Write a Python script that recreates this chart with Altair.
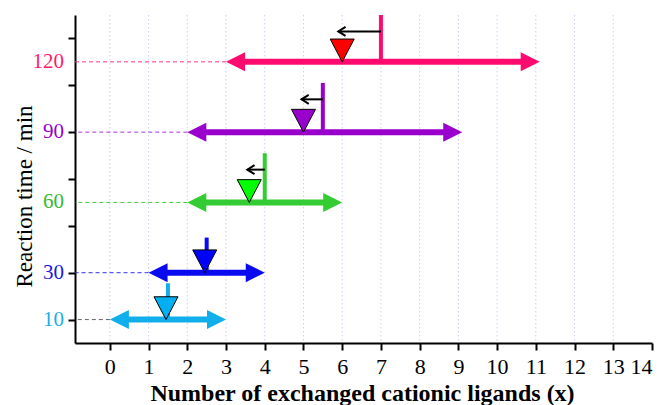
import altair as alt
import pandas as pd

# ---- data ----
times = [10, 30, 60, 90, 120]
arrow_start = [0, 1, 2, 2, 3]
arrow_end = [3, 4, 6, 9.1, 11.1]
marker_x = [1.45, 2.45, 3.6, 5.0, 6.0]
bar_x = [1.5, 2.5, 4.0, 5.5, 7.0]
bar_top = [25.5, 45, 81, 111, 140]
line_colors = ["#10AEEA", "#0A0AF0", "#33CC33", "#9900CC", "#FF0A6E"]
marker_colors = ["#00B0F0", "#0000FF", "#00FF00", "#9900CC", "#FF0000"]
label_colors = ["#1AAEE6", "#1A1AE0", "#33BB33", "#9900CC", "#FF1A6E"]
dash_colors = ["#666666", "#3333EE", "#44CC44", "#AA33DD", "#FF3388"]

shift_time = [60, 90, 120]
shift_from = [4.0, 5.5, 7.0]
shift_to = [3.55, 4.95, 5.9]
shift_y = [74, 104, 133]

grid_x = list(range(0, 14))
x_ticks = list(range(0, 15))
y_ticks = list(range(10, 140, 10))

W, H = 577, 328
FONT = "Liberation Serif"
HEAD_SHORTEN = 0.3

df = pd.DataFrame({
    "time": times, "start": arrow_start, "end": arrow_end,
    "mx": marker_x, "bx": bar_x, "btop": bar_top,
    "lc": line_colors, "mc": marker_colors, "tc": label_colors, "dc": dash_colors,
})
df["ls"] = df["start"] + HEAD_SHORTEN
df["le"] = df["end"] - HEAD_SHORTEN
df["label"] = df["time"].astype(str)

sdf = pd.DataFrame({"time": shift_time, "x1": shift_from, "x2": shift_to, "y": shift_y})
gdf = pd.DataFrame({"gx": grid_x})

xs = alt.Scale(domain=[-0.9, 14], nice=False, zero=False)
ys = alt.Scale(domain=[0, 140], nice=False, zero=False)

x_axis = alt.Axis(values=x_ticks, title="Number of exchanged cationic ligands (x)",
                  labelFont=FONT, labelFontSize=22, labelColor="black", labelPadding=6,
                  titleFont=FONT, titleFontSize=24, titleFontWeight="bold", titleColor="black",
                  titleX=287, titleY=57, titleBaseline="alphabetic",
                  tickSize=7, tickWidth=2, tickColor="black", domainWidth=2, domainColor="black",
                  grid=False)
y_axis = alt.Axis(values=y_ticks, labels=False, title="Reaction time / min",
                  titleFont=FONT, titleFontSize=23, titleFontWeight="normal", titleColor="black",
                  titleX=-44, titleY=181, titleAngle=-90, titleBaseline="alphabetic", titleAlign="center",
                  tickSize=7, tickWidth=2, tickColor="black", domainWidth=2, domainColor="black",
                  grid=False)

grid = alt.Chart(gdf).mark_rule(color="#CDCDF7", strokeWidth=1, strokeDash=[1.5, 2.5]).encode(
    x=alt.X("gx:Q", scale=xs, axis=x_axis),
    y=alt.value(0), y2=alt.value(H),
)

base = alt.Chart(df)

dashes = base.mark_rule(strokeWidth=1, strokeDash=[4, 3]).encode(
    x=alt.X("start:Q", scale=xs),
    x2=alt.value(0),
    y=alt.Y("time:Q", scale=ys, axis=y_axis),
    color=alt.Color("dc:N", scale=None),
)

bars = base.mark_rule(strokeWidth=4).encode(
    x=alt.X("bx:Q"), y=alt.Y("time:Q"), y2="btop:Q",
    color=alt.Color("lc:N", scale=None),
)

lines = base.mark_rule(strokeWidth=6).encode(
    x=alt.X("ls:Q"), x2="le:Q", y=alt.Y("time:Q"),
    color=alt.Color("lc:N", scale=None),
)

head_r = base.mark_point(shape="M0,0L-2,-1L-2,1Z", filled=True, size=361, opacity=1, strokeWidth=0).encode(
    x="end:Q", y="time:Q", color=alt.Color("lc:N", scale=None),
)
head_l = base.mark_point(shape="M0,0L2,-1L2,1Z", filled=True, size=361, opacity=1, strokeWidth=0).encode(
    x="start:Q", y="time:Q", color=alt.Color("lc:N", scale=None),
)

markers = base.mark_point(shape="M0,0L-1,-1.9L1,-1.9Z", filled=True, size=576, opacity=1,
                          stroke="black", strokeWidth=1).encode(
    x="mx:Q", y="time:Q", fill=alt.Fill("mc:N", scale=None),
)

labels = base.mark_text(align="right", baseline="middle", font=FONT, fontSize=21).encode(
    x=alt.value(-11), y="time:Q", text="label:N", color=alt.Color("tc:N", scale=None),
)

shift_line = alt.Chart(sdf).mark_rule(color="black", strokeWidth=2).encode(
    x="x1:Q", x2="x2:Q", y="y:Q",
)
shift_head = alt.Chart(sdf).mark_point(shape="M1.6,-1L0,0L1.6,1", filled=False, size=81, opacity=1,
                                        color="black", strokeWidth=2).encode(
    x="x2:Q", y="y:Q",
)

chart = alt.layer(grid, dashes, bars, lines, head_r, head_l, markers, labels, shift_line, shift_head).properties(
    width=W, height=H,
    padding={"left": 75, "top": 15, "right": 15, "bottom": 62},
    autosize=alt.AutoSizeParams(type="none"),
    background="white",
).configure_view(stroke=None)

chart.save("out.html", embed_options={"renderer": "svg", "actions": False})
